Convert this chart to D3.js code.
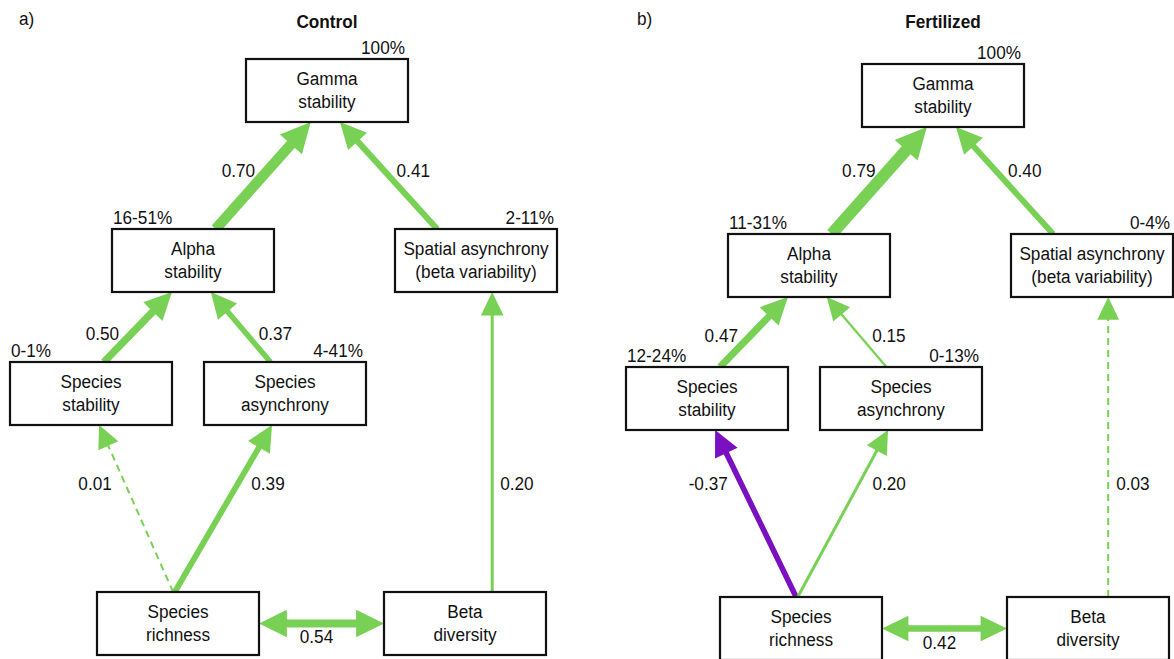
<!DOCTYPE html>
<html>
<head>
<meta charset="utf-8">
<title>Path models: Control vs Fertilized</title>
<script src="https://cdn.jsdelivr.net/npm/d3@7"></script>
<style>
  body { margin: 0; background: #fff; }
  text { font-family: "Liberation Sans", Arial, sans-serif; fill: #111; }
</style>
</head>
<body>
<div id="chart"></div>
<script>
// ---- data ----
const panelTags = ["a)", "b)"];
const panelTitles = ["Control", "Fertilized"];

const nodeIds = ["gamma", "alpha", "spatial", "sppStab", "sppAsyn", "richness", "beta"];
const nodeLines = [
    ["Gamma", "stability"],
    ["Alpha", "stability"],
    ["Spatial asynchrony", "(beta variability)"],
    ["Species", "stability"],
    ["Species", "asynchrony"],
    ["Species", "richness"],
    ["Beta", "diversity"]
];
// variance explained (R2 range) per node
const explainedControl = ["100%", "16-51%", "2-11%", "0-1%", "4-41%", "", ""];
const explainedFertilized = ["100%", "11-31%", "0-4%", "12-24%", "0-13%", "", ""];

const pathFrom = ["alpha", "spatial", "sppStab", "sppAsyn", "richness", "richness", "beta", "richness"];
const pathTo = ["gamma", "gamma", "alpha", "alpha", "sppStab", "sppAsyn", "spatial", "beta"];
const pathTwoWay = [false, false, false, false, false, false, false, true];
const coefControl = [0.70, 0.41, 0.50, 0.37, 0.01, 0.39, 0.20, 0.54];
const coefFertilized = [0.79, 0.40, 0.47, 0.15, -0.37, 0.20, 0.03, 0.42];
const signifControl = [true, true, true, true, false, true, true, true];
const signifFertilized = [true, true, true, true, true, true, false, true];

// ---- layout ----
const W = 1174, H = 659;
const boxW = 162, boxH = 63;
const GREEN = "#78d154", PURPLE = "#7a10bf";
const sx = 0.905; // glyphs in the figure are a bit narrow

const tier = d3.scaleOrdinal()
    .domain(nodeIds)
    .range([0, 1, 1, 2, 2, 3, 3]);
const tierTop = d3.scaleOrdinal().domain([0, 1, 2, 3]).range([59, 229, 362, 592]);
const nodeLeft = d3.scaleOrdinal()
    .domain(nodeIds)
    .range([246, 112, 395, 10, 204, 97, 384]);

// where each arrow leaves / meets its box (fraction of box width); null = straight up
const anchorFrom = [0.64, 0.26, 0.58, 0.41, 0.47, 0.48, null, 1];
const anchorTo = [0.40, 0.58, 0.37, 0.61, 0.55, 0.42, 0.60, 0];
const labelSide = [-1, 1, -1, 1, -1, 1, 1, 0];
const labelRow = [0, 0, 1, 1, 2, 2, 2, 3];

const panels = [
    { dx: 0, dy: 0, bottomShift: 0, rows: [170, 333, 483, 636], explained: explainedControl, coef: coefControl, signif: signifControl },
    { dx: 616, dy: 5, bottomShift: 7, rows: [165, 330, 478, 637], explained: explainedFertilized, coef: coefFertilized, signif: signifFertilized }
];

const width = d3.scaleLinear().domain([0, 0.8]).range([0, 12]);

const svg = d3.select("#chart").append("svg")
    .attr("width", W)
    .attr("height", H);

function put(sel, x, y) {
    return sel.attr("transform", "translate(" + x + "," + y + ") scale(" + sx + ",1)");
}

function boxOf(id, p) {
    let x = nodeLeft(id);
    if (tier(id) == 3) x += p.bottomShift;
    return { x: x, y: tierTop(tier(id)), w: boxW, h: boxH };
}

function arrowHead(g, tip, ux, uy, len, hw, color) {
    const bx = tip[0] - ux * len, by = tip[1] - uy * len;
    const nx = -uy, ny = ux;
    g.append("polygon")
        .attr("points", [
            [tip[0], tip[1]],
            [bx + nx * hw, by + ny * hw],
            [bx - nx * hw, by - ny * hw]
        ].map(d => d.join(",")).join(" "))
        .attr("fill", color);
}

panels.forEach(function (p, pi) {
    const g = svg.append("g").attr("transform", "translate(" + p.dx + "," + p.dy + ")");

    // panel tag and title (not shifted vertically)
    put(svg.append("text"), 19 + (pi == 0 ? 0 : 618), 25)
        .style("font-size", "19px")
        .text(panelTags[pi]);
    const gb = boxOf("gamma", p);
    put(svg.append("text"), p.dx + gb.x + gb.w / 2, 28)
        .attr("text-anchor", "middle")
        .style("font-size", "19px")
        .style("font-weight", "bold")
        .text(panelTitles[pi]);

    // arrows
    pathFrom.forEach(function (from, i) {
        const c = p.coef[i];
        const a = boxOf(from, p), b = boxOf(pathTo[i], p);
        const color = c < 0 ? PURPLE : GREEN;
        const sig = p.signif[i];
        const w = sig ? Math.max(2, width(Math.abs(c))) : 2;
        const len = 21 + 0.85 * w, hw = 10 + 0.45 * w;
        let s, t;
        if (pathTwoWay[i]) {
            s = [a.x + a.w, a.y + a.h / 2];
            t = [b.x, a.y + a.h / 2];
        } else {
            t = [b.x + b.w * anchorTo[i], b.y + b.h];
            s = [anchorFrom[i] == null ? t[0] : a.x + a.w * anchorFrom[i], a.y];
        }
        const L = Math.hypot(t[0] - s[0], t[1] - s[1]);
        const ux = (t[0] - s[0]) / L, uy = (t[1] - s[1]) / L;
        const s2 = pathTwoWay[i] ? [s[0] + ux * (len - 1), s[1] + uy * (len - 1)] : s;
        const e2 = [t[0] - ux * (len - 1), t[1] - uy * (len - 1)];

        g.append("line")
            .attr("x1", s2[0]).attr("y1", s2[1])
            .attr("x2", e2[0]).attr("y2", e2[1])
            .attr("stroke", color)
            .attr("stroke-width", w)
            .attr("stroke-dasharray", sig ? null : "7,5");
        arrowHead(g, t, ux, uy, len, hw, color);
        if (pathTwoWay[i]) arrowHead(g, s, -ux, -uy, len, hw, color);

        // coefficient label
        const ly = p.rows[labelRow[i]];
        let lx, anchor;
        if (labelSide[i] == 0) {
            lx = (s[0] + t[0]) / 2 - 5;
            anchor = "middle";
        } else {
            const k = (ly - s[1]) / (t[1] - s[1]);
            const lineX = s[0] + k * (t[0] - s[0]);
            const gap = Math.abs(t[0] - s[0]) < 1 ? 8 : 13;
            lx = lineX + labelSide[i] * gap;
            anchor = labelSide[i] < 0 ? "end" : "start";
        }
        put(g.append("text"), lx, ly + 6.5)
            .attr("text-anchor", anchor)
            .style("font-size", "19px")
            .text(c.toFixed(2));
    });

    // boxes
    nodeIds.forEach(function (id, i) {
        const b = boxOf(id, p);
        g.append("rect")
            .attr("x", b.x).attr("y", b.y)
            .attr("width", b.w).attr("height", b.h)
            .attr("fill", "#fff")
            .attr("stroke", "#111")
            .attr("stroke-width", 2.2);
        nodeLines[i].forEach(function (line, j) {
            put(g.append("text"), b.x + b.w / 2, b.y + b.h / 2 - 6 + j * 23)
                .attr("text-anchor", "middle")
                .style("font-size", "19px")
                .text(line);
        });
        const r2 = p.explained[i];
        if (r2) {
            // left-aligned for alpha / species stability, right-aligned otherwise
            const left = (id == "alpha" || id == "sppStab");
            put(g.append("text"), left ? b.x + 1 : b.x + b.w - 3, b.y - 5)
                .attr("text-anchor", left ? "start" : "end")
                .style("font-size", "19px")
                .text(r2);
        }
    });
});
</script>
</body>
</html>
